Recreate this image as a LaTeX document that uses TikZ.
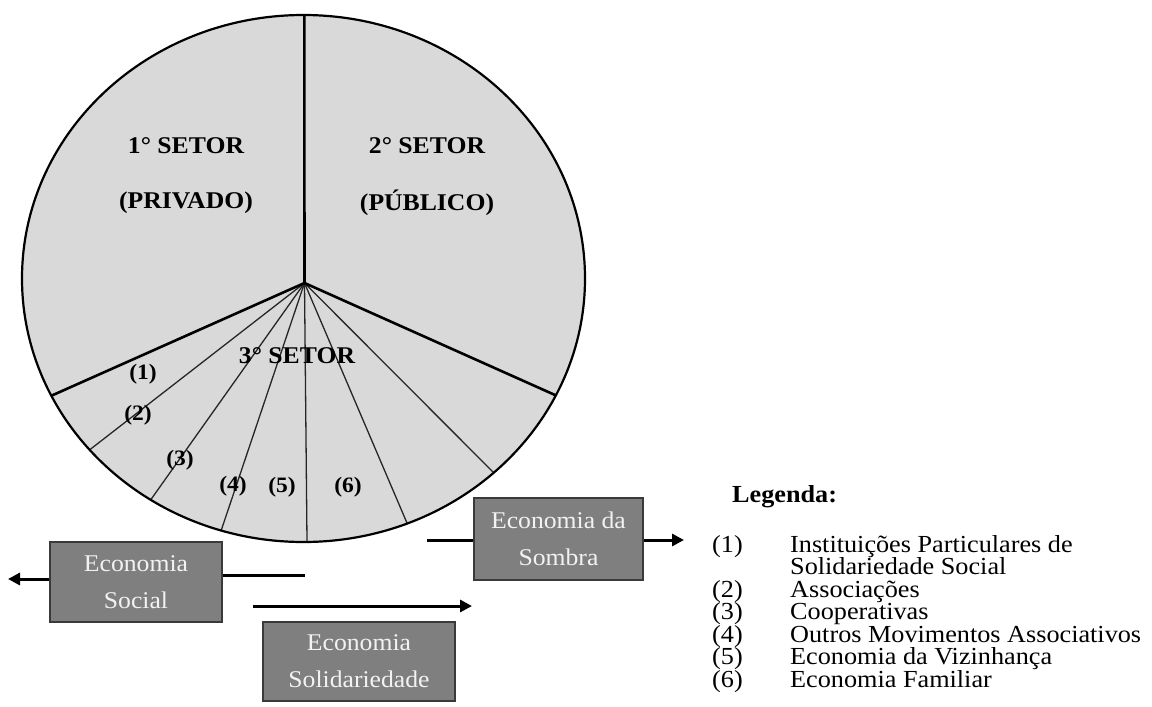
\documentclass[tikz,border=0pt]{standalone}
\usepackage{fontspec}
\setmainfont{Liberation Serif}[FakeStretch=1.07]
\usetikzlibrary{arrows.meta,calc}

\definecolor{piefill}{HTML}{D9D9D9}
\definecolor{boxfill}{HTML}{7F7F7F}
\definecolor{boxline}{HTML}{3A3A3A}
\definecolor{boxtext}{HTML}{F2F2F2}

\tikzset{
  sectorline/.style={line width=2.6pt, black},
  subline/.style={line width=1.3pt, black!85},
  rim/.style={line width=2.2pt, black},
  bigtitle/.style={font=\fontsize{24}{26}\selectfont\bfseries, inner sep=0pt},
  numtag/.style={font=\fontsize{22}{24}\selectfont\bfseries, inner sep=0pt},
  ecobox/.style={draw=boxline, line width=1.8pt, fill=boxfill, text=boxtext,
    font=\fontsize{24}{37}\selectfont, align=center, inner sep=0pt},
  flow/.style={line width=3pt, black, -{Triangle[length=12pt,width=12pt]}},
  flowplain/.style={line width=3pt, black},
  legtext/.style={font=\fontsize{24.5}{26}\selectfont, anchor=base west, inner sep=0pt},
}

\begin{document}
\begin{tikzpicture}[x=1pt,y=-1pt]
\useasboundingbox (0,0) rectangle (1152,707);

% pie outline and sector boundaries
\coordinate (hub) at (304.5,283);
\coordinate (ctr) at (303.5,278.5);
\fill[piefill] (ctr) ellipse [x radius=281.5, y radius=263.5];

\coordinate (top) at (304.3,15);
\coordinate (bl) at (53,395);
\coordinate (br) at (555,395);
\coordinate (s2) at (92,448);
\coordinate (s3) at (152,498);
\coordinate (s4) at (222,528);
\coordinate (s5) at (307,541);
\coordinate (s6) at (407,523);
\coordinate (s7) at (492,471);

\begin{scope}
  \clip (ctr) ellipse [x radius=281.5, y radius=263.5];
  \foreach \p in {s2,s3,s4,s5,s6,s7}
    \draw[subline] (hub) -- ($(hub)!1.08!(\p)$);
  \draw[sectorline] (hub) -- ($(hub)!1.08!(top)$);
  \draw[sectorline] (hub) -- ($(hub)!1.08!(bl)$);
  \draw[sectorline] (hub) -- ($(hub)!1.08!(br)$);
\end{scope}
\draw[rim] (ctr) ellipse [x radius=281.5, y radius=263.5];

% sector titles
\node[bigtitle] (t1a) at (186,146) {1° SETOR};
\node[bigtitle] (t1b) at (186,203) {(PRIVADO)};
\node[bigtitle] (t2a) at (427,146) {2° SETOR};
\node[bigtitle] (t2b) at (427,203) {(PÚBLICO)};
\node[bigtitle] (t3) at (297,356) {3° SETOR};

% third-sector parts
\node[numtag] (n1) at (143,374) {(1)};
\node[numtag] (n2) at (138,415) {(2)};
\node[numtag] (n3) at (180,460) {(3)};
\node[numtag] (n4) at (233,486) {(4)};
\node[numtag] (n5) at (282,487) {(5)};
\node[numtag] (n6) at (348,487) {(6)};

% economy boxes
\node[ecobox, minimum width=172pt, minimum height=80pt] (social) at (136,582) {Economia\\Social};
\node[ecobox, minimum width=192pt, minimum height=79pt] (solid) at (359,661.5) {Economia\\Solidariedade};
\node[ecobox, minimum width=169pt, minimum height=82pt] (sombra) at (558.5,539) {Economia da\\Sombra};

\coordinate (socL) at (8,579);
\coordinate (socR) at (305,575);
\coordinate (solA) at (253,606);
\coordinate (solB) at (472,606);
\coordinate (somL) at (427,540);
\coordinate (somR) at (684,540);

\draw[flow] (social.west |- socL) -- (socL);
\draw[flowplain] (social.east |- socR) -- (socR);
\draw[flow] (solA) -- (solB);
\draw[flowplain] (somL) -- (sombra.west |- somL);
\draw[flow] (sombra.east |- somR) -- (somR);

% legend
\node[font=\fontsize{24.5}{26}\selectfont\bfseries, anchor=base west, inner sep=0pt] (leg) at (732,502) {Legenda:};
\node[legtext] (l1n) at (712,552) {(1)};
\node[legtext] (l1t) at (790,552) {Instituições Particulares de};
\node[legtext] (l1u) at (790,574.5) {Solidariedade Social};
\node[legtext] (l2n) at (712,597) {(2)};
\node[legtext] (l2t) at (790,597) {Associações};
\node[legtext] (l3n) at (712,619.5) {(3)};
\node[legtext] (l3t) at (790,619.5) {Cooperativas};
\node[legtext] (l4n) at (712,642) {(4)};
\node[legtext] (l4t) at (790,642) {Outros Movimentos Associativos};
\node[legtext] (l5n) at (712,664.5) {(5)};
\node[legtext] (l5t) at (790,664.5) {Economia da Vizinhança};
\node[legtext] (l6n) at (712,687) {(6)};
\node[legtext] (l6t) at (790,687) {Economia Familiar};
\end{tikzpicture}
\end{document}
